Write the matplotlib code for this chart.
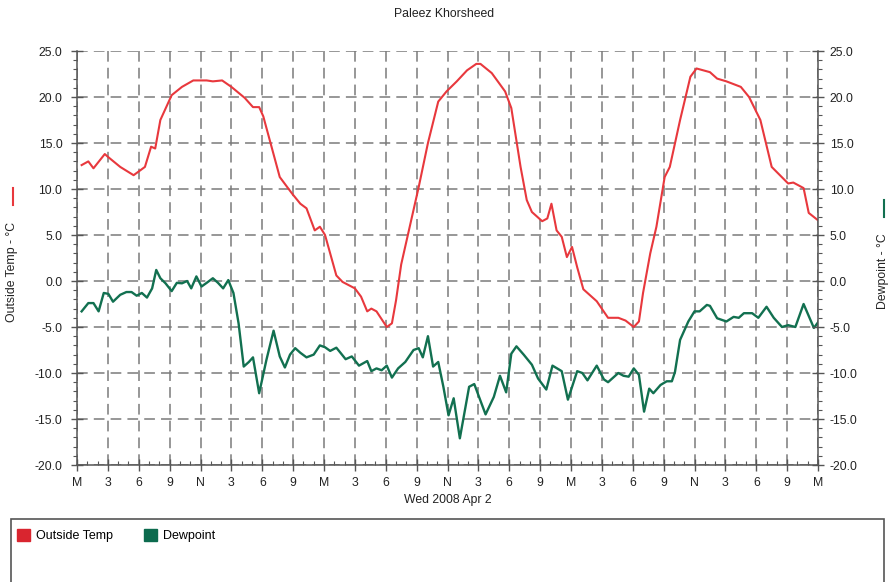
import matplotlib
matplotlib.use("Agg")
import matplotlib.pyplot as plt
from matplotlib.patches import Patch, Rectangle
from matplotlib.lines import Line2D
import numpy as np

plt.rcParams['font.family'] = ['Liberation Sans', 'DejaVu Sans']

# horas desde a meia-noite e temperatura externa (°C)
temp_h = [0.45, 1.1, 1.6, 2.7, 3.0, 4.2, 5.5, 6.6, 7.2, 7.6, 8.1, 9.2, 10.2, 11.3,
          12.6, 13.2, 14.1, 15.0, 16.3, 17.1, 17.7, 18.1, 18.9, 19.7, 20.9, 21.7,
          22.3, 23.1, 23.6, 24.1, 24.6, 25.2, 25.8, 27.0, 27.6, 28.2, 28.6, 29.1,
          30.1, 30.6, 31.0, 31.5, 33.2, 34.1, 35.1, 35.9, 36.9, 37.9, 38.8, 39.2,
          40.3, 41.6, 42.2, 43.1, 43.7, 44.2, 45.2, 45.7, 46.1, 46.6, 47.1, 47.6,
          48.1, 48.6, 49.2, 50.5, 51.6, 52.6, 53.3, 54.1, 54.6, 55.0, 55.7, 56.3,
          57.1, 57.6, 58.6, 59.6, 60.2, 61.5, 62.2, 63.1, 64.5, 65.3, 66.4, 67.5,
          68.3, 69.1, 69.6, 70.6, 71.1, 72.0]
temp = [12.6, 13.0, 12.25, 13.8, 13.5, 12.4, 11.5, 12.4, 14.6, 14.4, 17.5, 20.2, 21.1, 21.8,
        21.8, 21.7, 21.8, 21.1, 19.9, 18.9, 18.9, 17.9, 14.6, 11.3, 9.5, 8.4,
        7.9, 5.5, 5.9, 5.0, 3.0, 0.6, -0.1, -0.8, -1.7, -3.3, -3.0, -3.3,
        -5.0, -4.6, -2.1, 1.8, 10.2, 15.0, 19.5, 20.6, 21.7, 22.9, 23.6, 23.6,
        22.6, 20.6, 18.8, 12.4, 8.8, 7.5, 6.5, 6.8, 8.4, 5.5, 4.8, 2.6,
        3.7, 1.5, -0.9, -2.2, -4.0, -4.0, -4.3, -5.0, -4.4, -1.3, 3.0, 5.9,
        11.3, 12.4, 17.5, 22.2, 23.1, 22.7, 22.0, 21.7, 21.1, 20.0, 17.5, 12.4,
        11.5, 10.6, 10.7, 10.1, 7.4, 6.6]

# ponto de orvalho (°C)
dew_h = [0.45, 1.1, 1.6, 2.1, 2.6, 3.05, 3.5, 4.2, 4.8, 5.3, 5.8, 6.3, 6.8, 7.3, 7.7,
         8.1, 8.6, 9.2, 9.7, 10.2, 10.7, 11.1, 11.6, 12.1, 12.6, 13.2, 13.7, 14.2,
         14.7, 15.2, 15.7, 16.2, 16.7, 17.1, 17.7, 18.4, 19.1, 19.7, 20.2, 20.7,
         21.2, 21.7, 22.3, 23.0, 23.6, 24.1, 24.6, 25.2, 25.6, 26.1, 26.7, 27.4,
         28.2, 28.6, 29.1, 29.6, 30.1, 30.6, 31.2, 31.9, 32.7, 33.2, 33.6, 34.1,
         34.6, 35.1, 35.6, 36.1, 36.6, 37.2, 38.1, 38.6, 39.7, 40.5, 41.1, 41.7,
         42.2, 42.7, 43.4, 44.2, 44.8, 45.6, 46.2, 47.1, 47.7, 48.6, 49.1, 49.6,
         50.5, 51.2, 51.6, 52.6, 53.1, 53.6, 54.1, 54.6, 55.1, 55.6, 56.0, 56.7,
         57.3, 57.8, 58.1, 58.6, 59.4, 60.0, 60.5, 61.2, 61.5, 62.2, 63.1, 63.8,
         64.3, 64.8, 65.6, 66.2, 67.0, 67.7, 68.5, 69.1, 69.8, 70.6, 71.6, 72.0]
dew = [-3.3, -2.4, -2.4, -3.3, -1.3, -1.4, -2.25, -1.5, -1.2, -1.2, -1.6, -1.3, -1.8, -0.8, 1.2,
       0.3, -0.25, -1.1, -0.2, -0.25, 0.0, -0.8, 0.5, -0.6, -0.2, 0.3, -0.2, -0.8,
       0.1, -1.3, -4.6, -9.3, -8.8, -8.3, -12.2, -8.6, -5.4, -8.2, -9.4, -8.0,
       -7.3, -7.8, -8.3, -8.0, -7.0, -7.2, -7.6, -7.25, -7.8, -8.5, -8.2, -9.2,
       -8.7, -9.8, -9.5, -9.7, -9.2, -10.5, -9.5, -8.8, -7.5, -7.3, -8.3, -6.0,
       -9.3, -8.8, -11.5, -14.6, -12.75, -17.1, -11.5, -11.2, -14.5, -12.6, -10.3, -12.1,
       -7.9, -7.1, -8.0, -9.1, -10.6, -11.8, -9.2, -9.8, -12.9, -9.8, -10.0, -10.8,
       -9.2, -10.7, -11.0, -10.0, -10.3, -10.4, -9.5, -10.2, -14.2, -11.7, -12.2, -11.3,
       -10.9, -10.9, -9.9, -6.4, -4.4, -3.3, -3.3, -2.6, -2.7, -4.05, -4.4, -3.9,
       -4.0, -3.5, -3.5, -4.0, -2.8, -4.0, -5.0, -4.8, -5.0, -2.5, -5.1, -4.5]

# rótulos do eixo x a cada 3 horas
xticks = list(range(0, 73, 3))
xlabels = ['M', '3', '6', '9', 'N', '3', '6', '9'] * 3 + ['M']

vermelho = '#e8383d'
verde = '#127050'
cinza_txt = '#222222'
fs = 8.8

fig = plt.figure(figsize=(8.89, 5.82), dpi=100)
ax = fig.add_axes([77/889, 1-465/582, (818-77)/889, (465-51)/582])

ax.plot(temp_h, temp, color=vermelho, lw=1.5)
ax.plot(dew_h, dew, color=verde, lw=1.7)

ax.set_xlim(0, 72)
ax.set_ylim(-20, 25)
ax.set_xticks(xticks)
ax.set_xticklabels(xlabels)
ax.set_xticks(np.arange(0, 73, 1), minor=True)
ax.set_yticks(np.arange(-20, 26, 5))
ax.set_yticks(np.arange(-20, 26, 1), minor=True)
ax.yaxis.set_major_formatter(matplotlib.ticker.FormatStrFormatter('%.1f'))

ax.grid(True, which='major', color='#7a7a7a', linestyle=(0, (7, 4)), lw=1.1)
ax.spines['top'].set_visible(False)
for s in ['left', 'right', 'bottom']:
    ax.spines[s].set_color('#555555')
    ax.spines[s].set_linewidth(1.1)

ax.tick_params(axis='both', which='major', direction='inout', length=9, width=1,
               color='#555555', labelsize=fs, labelcolor=cinza_txt)
ax.tick_params(axis='both', which='minor', direction='out', length=3, width=0.8,
               color='#555555')
ax.tick_params(axis='x', which='major', pad=4)
ax.tick_params(axis='y', which='major', pad=6)
ax.tick_params(axis='x', which='minor', direction='in')

# eixo da direita com a mesma escala
ax2 = ax.twinx()
ax2.set_ylim(-20, 25)
ax2.set_yticks(np.arange(-20, 26, 5))
ax2.set_yticks(np.arange(-20, 26, 1), minor=True)
ax2.yaxis.set_major_formatter(matplotlib.ticker.FormatStrFormatter('%.1f'))
ax2.tick_params(axis='y', which='major', direction='inout', length=9, width=1,
                color='#555555', labelsize=fs, labelcolor=cinza_txt, pad=4)
ax2.tick_params(axis='y', which='minor', direction='out', length=3, width=0.8,
                color='#555555')
for s in ax2.spines.values():
    s.set_visible(False)

fig.text(0.5, 1-14/582, 'Paleez Khorsheed', ha='center', va='center',
         fontsize=fs, color=cinza_txt)
fig.text(447.5/889, 1-500/582, 'Wed 2008 Apr 2', ha='center', va='center',
         fontsize=fs, color=cinza_txt)

# títulos dos eixos com o traço da cor da série
fig.text(12/889, 1-272/582, 'Outside Temp - °C', rotation=90, ha='center',
         va='center', fontsize=fs, color=cinza_txt)
fig.add_artist(Line2D([13/889, 13/889], [1-188/582, 1-205/582], color=vermelho, lw=1.5))
fig.text(883/889, 1-271/582, 'Dewpoint - °C', rotation=90, ha='center',
         va='center', fontsize=fs, color=cinza_txt)
fig.add_artist(Line2D([884/889, 884/889], [1-200/582, 1-217/582], color=verde, lw=1.5))

# caixa da legenda
fig.add_artist(Rectangle((11/889, -0.05), (884-11)/889, 0.05 + 1-519/582,
                         transform=fig.transFigure, fill=False,
                         edgecolor='#555555', lw=1.2))
handles = [Patch(facecolor='#d9252f', edgecolor='#d9252f', label='Outside Temp'),
           Patch(facecolor='#0c6b4e', edgecolor='#0c6b4e', label='Dewpoint')]
fig.legend(handles=handles, loc='upper left', bbox_to_anchor=(17/889, 1-529/582),
           ncol=2, frameon=False, fontsize=9, handlelength=1.0, handleheight=1.1,
           handletextpad=0.5, columnspacing=2.5, borderaxespad=0, borderpad=0)

fig.savefig('out.png', dpi=100)
